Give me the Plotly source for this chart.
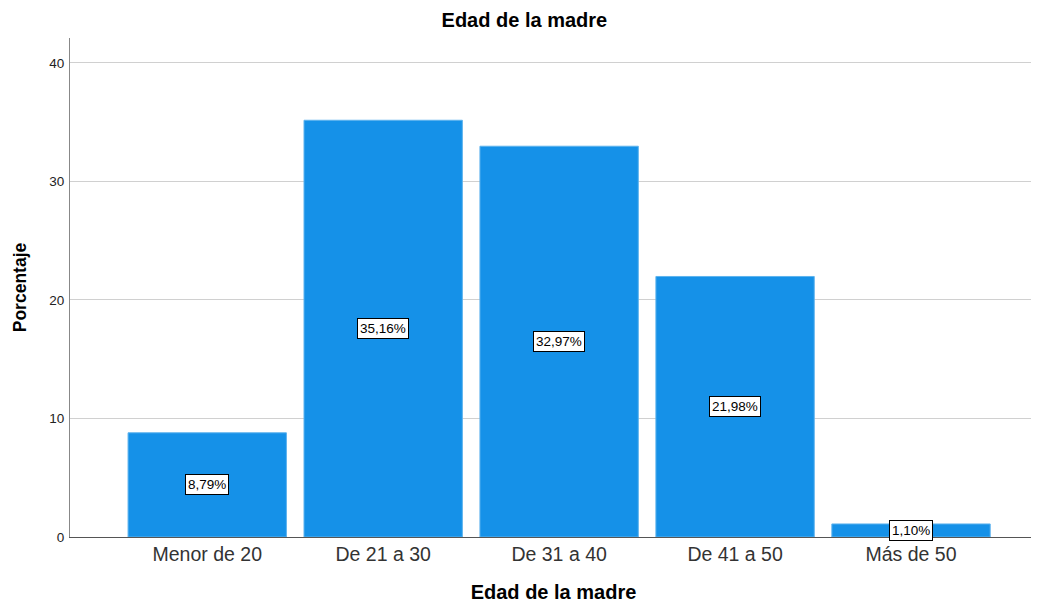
import plotly.graph_objects as go

categories = ["Menor de 20", "De 21 a 30", "De 31 a 40", "De 41 a 50", "Más de 50"]
values = [8.79, 35.16, 32.97, 21.98, 1.10]
labels = ["8,79%", "35,16%", "32,97%", "21,98%", "1,10%"]
y_ticks = [0, 10, 20, 30, 40]

FONT = "Liberation Sans, Arial, sans-serif"

fig = go.Figure()
fig.add_trace(go.Bar(
    x=categories, y=values, width=0.9,
    marker=dict(color="#1591E8", line=dict(color="#5DB3EE", width=1)),
    hoverinfo="skip",
))

for c, v, t in zip(categories, values, labels):
    fig.add_annotation(
        x=c, y=v / 2, text=t, showarrow=False,
        font=dict(family=FONT, size=13.5, color="#000"),
        bgcolor="white", bordercolor="black", borderwidth=1, borderpad=2,
    )

fig.update_layout(
    width=1039, height=604,
    margin=dict(l=62, r=10, t=30, b=75),
    paper_bgcolor="white", plot_bgcolor="white",
    showlegend=False,
    font=dict(family=FONT, color="#222"),
    title=dict(text="<b>Edad de la madre</b>", x=0.497, xanchor="center",
               y=1 - 12 / 604, yanchor="middle",
               font=dict(size=20, color="#000")),
    xaxis=dict(
        range=[-0.78, 4.716], showgrid=False, showline=True,
        linecolor="#555", linewidth=1, ticks="",
        tickfont=dict(size=19.5, color="#333"),
        title=dict(text="<b>Edad de la madre</b>", font=dict(size=20, color="#000"), standoff=20),
    ),
    yaxis=dict(
        range=[0, 42.1], tickvals=y_ticks, showgrid=True,
        gridcolor="#D0D0D0", gridwidth=1, showline=True,
        linecolor="#888", linewidth=1, ticks="", zeroline=False,
        ticklabelstandoff=2,
        tickfont=dict(size=13.5, color="#222"),
        title=dict(text="<b>Porcentaje</b>", font=dict(size=17.5, color="#000"), standoff=18),
    ),
)

fig.write_html("out.html")
